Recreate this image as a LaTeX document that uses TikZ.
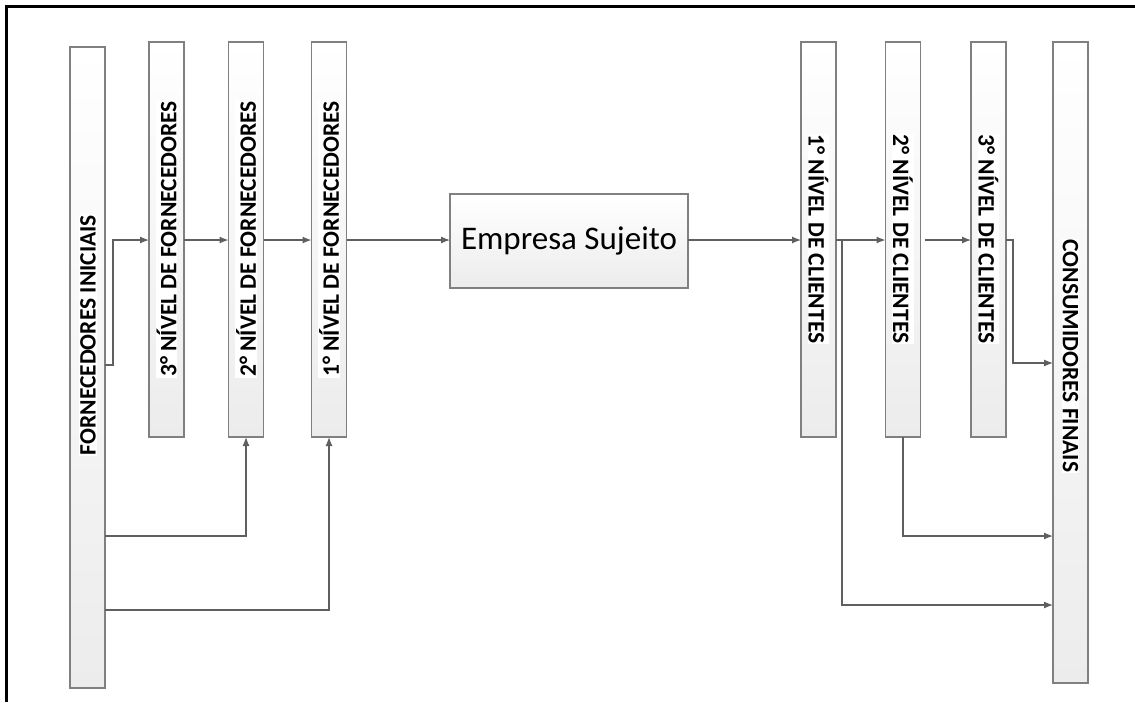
\documentclass[tikz,border=0pt]{standalone}
\usepackage{fontspec}
\setmainfont{Carlito}
\usetikzlibrary{arrows.meta,calc}
\definecolor{bord}{RGB}{128,128,128}
\definecolor{lin}{RGB}{95,95,95}
\definecolor{boxg}{RGB}{236,236,236}
\begin{document}
\begin{tikzpicture}[x=1pt,y=-1pt,
  box/.style={draw=bord,line width=1.4pt,top color=white,bottom color=boxg,inner sep=0pt,outer sep=0pt},
  vbox/.style={box,minimum width=35pt},
  lab/.style={font=\bfseries\fontsize{23.5}{24}\selectfont,fill=white,inner sep=1pt,text=black},
  conn/.style={draw=lin,line width=1.2pt,-{Latex[length=9pt,width=7pt]}},
  plain/.style={draw=lin,line width=1.2pt}]
\useasboundingbox (0,0) rectangle (1135,702);
\draw[line width=3pt] (6,702) -- (6,6) -- (1135,6);

% boxes
\node[vbox,minimum height=641pt] (fi) at (87.5,367.5) {};
\node[vbox,minimum height=395pt] (f3) at (166.5,239.5) {};
\node[vbox,minimum height=395pt] (f2) at (246,239.5) {};
\node[vbox,minimum height=395pt] (f1) at (329,239.5) {};
\node[box,minimum width=238pt,minimum height=94pt,font=\fontsize{33}{36}\selectfont] (es) at (569,241) {Empresa Sujeito};
\node[vbox,minimum height=395pt] (c1) at (818.5,239.5) {};
\node[vbox,minimum height=395pt] (c2) at (903,239.5) {};
\node[vbox,minimum height=395pt] (c3) at (988.5,239.5) {};
\node[vbox,minimum height=641pt] (cf) at (1070.5,362.5) {};

% labels
\node[lab,rotate=90] (fil) at (88,335) {FORNECEDORES INICIAIS};
\node[lab,rotate=90] (f3l) at (166.5,239) {3° NÍVEL DE FORNECEDORES};
\node[lab,rotate=90] (f2l) at (246,239) {2° NÍVEL DE FORNECEDORES};
\node[lab,rotate=90] (f1l) at (329,239) {1° NÍVEL DE FORNECEDORES};
\node[lab,rotate=-90] (c1l) at (818.5,239) {1° NÍVEL DE CLIENTES};
\node[lab,rotate=-90] (c2l) at (903,239) {2° NÍVEL DE CLIENTES};
\node[lab,rotate=-90] (c3l) at (988.5,239) {3° NÍVEL DE CLIENTES};
\node[lab,rotate=-90] (cfl) at (1070.5,356) {CONSUMIDORES FINAIS};

% helper coordinates
\coordinate (ym) at (0,240);
\coordinate (y365) at (0,365);
\coordinate (y363) at (0,363);
\coordinate (y536) at (0,536);
\coordinate (y605) at (0,605);
\coordinate (y610) at (0,610);
\coordinate (b1) at (113,240);
\coordinate (b2) at (842,240);
\coordinate (b3) at (1013,240);

% connectors
\draw[conn] (fi.east |- y365) -| (b1) -- (f3.west |- ym);
\draw[conn] (f3.east |- ym) -- (f2.west |- ym);
\draw[conn] (f2.east |- ym) -- (f1.west |- ym);
\draw[conn] (f1.east |- ym) -- (es.west |- ym);
\draw[conn] (es.east |- ym) -- (c1.west |- ym);
\draw[conn] (c1.east |- ym) -- (c2.west |- ym);
\draw[conn] ($(c2.east |- ym)+(4,0)$) -- (c3.west |- ym);
\draw[conn] (c3.east |- ym) -- (b3) |- (cf.west |- y363);
\draw[conn] (b2) |- (cf.west |- y605);
\draw[conn] (c2.south) |- (cf.west |- y536);
\draw[conn] (fi.east |- y536) -| (f2.south);
\draw[conn] (fi.east |- y610) -| (f1.south);
\end{tikzpicture}
\end{document}
